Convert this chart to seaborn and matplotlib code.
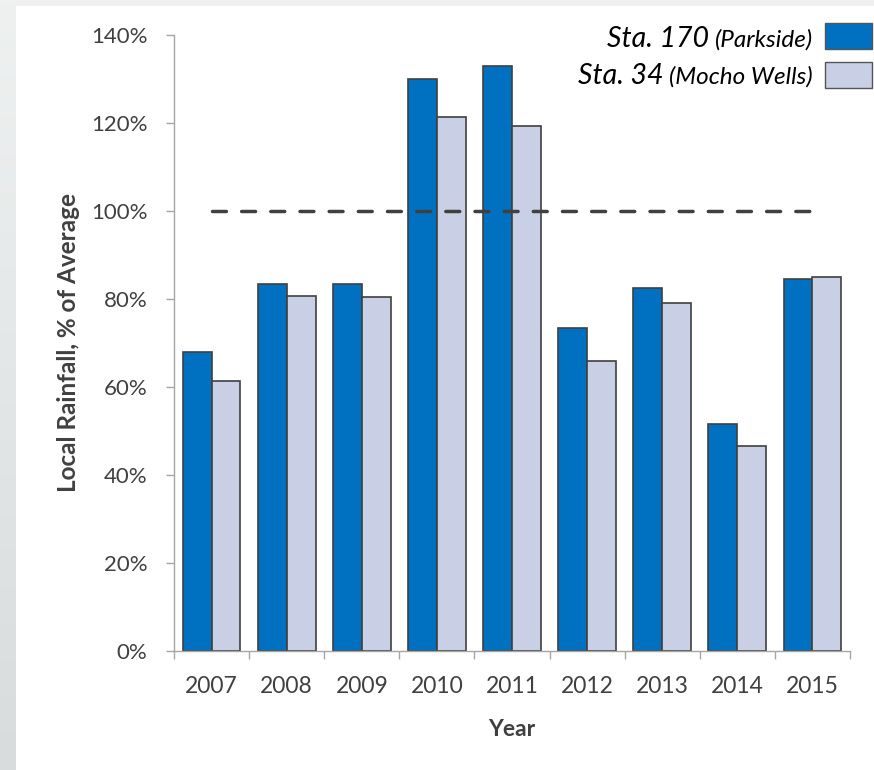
import matplotlib
matplotlib.use("Agg")
import matplotlib.pyplot as plt
import seaborn as sns
import numpy as np
import pandas as pd
from matplotlib.patches import Rectangle

years = ["2007", "2008", "2009", "2010", "2011", "2012", "2013", "2014", "2015"]
sta170 = [68.0, 83.3, 83.4, 129.9, 132.9, 73.4, 82.5, 51.6, 84.6]
sta34 = [61.3, 80.6, 80.5, 121.3, 119.3, 65.9, 79.1, 46.7, 85.0]
series_main = ["Sta. 170", "Sta. 34"]
series_sub = ["(Parkside)", "(Mocho Wells)"]
yticks = [0, 20, 40, 60, 80, 100, 120, 140]
avg_level = 100

colors = ["#0070C0", "#C9CFE5"]
edge = "#404040"

df = pd.DataFrame({
    "Year": years * 2,
    "Value": sta170 + sta34,
    "Station": [series_main[0]] * len(years) + [series_main[1]] * len(years),
})

sns.set_theme(style="white")
plt.rcParams["font.family"] = ["Lato", "DejaVu Sans"]

W, H = 874, 770
fig = plt.figure(figsize=(W / 100, H / 100), dpi=100)
fig.patch.set_facecolor("#eef0f0")

# background gradient strip + white panel
bg = fig.add_axes([0, 0, 1, 1], zorder=-10)
grad = np.linspace(0, 1, 256).reshape(-1, 1)
top = np.array([0xef, 0xf1, 0xf1]) / 255
bot = np.array([0xd8, 0xdc, 0xdd]) / 255
img = top[None, None, :] * (1 - grad[:, :, None]) + bot[None, None, :] * grad[:, :, None]
bg.imshow(img, aspect="auto", extent=[0, 1, 0, 1], origin="upper")
bg.add_patch(Rectangle((16 / W, 0), 1, 1 - 6 / H, facecolor="white", edgecolor="none"))
bg.set_xlim(0, 1)
bg.set_ylim(0, 1)
bg.axis("off")

ax = fig.add_axes([174 / W, 1 - 651 / H, (850 - 174) / W, (651 - 35) / H])
ax.set_facecolor("none")

sns.barplot(data=df, x="Year", y="Value", hue="Station", palette=colors,
            width=0.77, edgecolor=edge, linewidth=1.2, ax=ax, legend=False,
            errorbar=None, saturation=1)

ax.hlines(avg_level, 0, len(years) - 1, colors="#404040", linewidth=2.5,
          linestyles=(0, (4.0, 4.4)), capstyle="round", zorder=5)

ax.set_xlim(-0.5, len(years) - 0.5)
ax.set_ylim(0, 140)
ax.set_yticks(yticks)
ax.set_yticklabels([f"{v}%" for v in yticks])

for s in ["top", "right"]:
    ax.spines[s].set_visible(False)
for s in ["left", "bottom"]:
    ax.spines[s].set_color("#a6a6a6")
    ax.spines[s].set_linewidth(1.0)

ax.tick_params(axis="y", which="major", direction="out", length=6, width=1,
               color="#a6a6a6", pad=13, labelsize=16, labelcolor="#404040", left=True)
ax.set_xticks(np.arange(len(years)))
ax.set_xticks(np.arange(-0.5, len(years)), minor=True)
ax.tick_params(axis="x", which="major", length=0, pad=18, labelsize=16.5, labelcolor="#404040")
ax.tick_params(axis="x", which="minor", direction="out", length=6, width=1,
               color="#a6a6a6", bottom=True)

ax.set_xlabel("Year", fontsize=16.5, fontweight="bold", color="#404040", labelpad=16)
ax.set_ylabel("Local Rainfall, % of Average", fontsize=17.5, fontweight="bold",
              color="#404040", labelpad=8)

# legend (manual, mixed sizes)
fig.canvas.draw()
renderer = fig.canvas.get_renderer()
baselines = [47, 84]
for i, (m, sub) in enumerate(zip(series_main, series_sub)):
    yb = 1 - baselines[i] / H
    t_sub = fig.text(813 / W, yb, sub, ha="right", va="baseline", fontsize=17.5,
                     style="italic", color="black")
    bb = t_sub.get_window_extent(renderer)
    fig.text((bb.x0 - 6) / W, yb, m, ha="right", va="baseline", fontsize=20.5,
             style="italic", color="black")
    ytop = [23, 62][i]
    fig.patches.append(Rectangle((825 / W, 1 - (ytop + 26) / H), 47 / W, 26 / H,
                                 transform=fig.transFigure, facecolor=colors[i],
                                 edgecolor="#555555", linewidth=1.0, figure=fig))

fig.savefig("out.png", dpi=100)
